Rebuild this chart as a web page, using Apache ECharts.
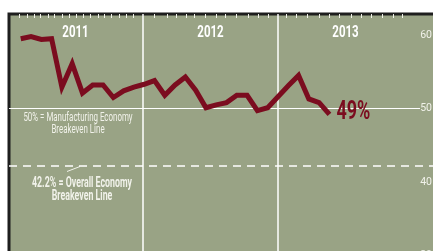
<!DOCTYPE html>
<html>
<head>
<meta charset="utf-8">
<script src="https://cdn.jsdelivr.net/npm/echarts@6/dist/echarts.min.js"></script>
<style>
  html, body { margin: 0; padding: 0; background: #fff; }
  #main { width: 433px; height: 251px; }
</style>
</head>
<body>
<div id="main"></div>
<script>
// PMI readings as drawn, one point per step
const pmi = [59.5, 59.8, 59.4, 59.5, 52.9, 56.1, 52.1, 53.2, 53.2, 51.5,
  52.4, 52.9, 53.3, 53.8, 51.8, 53.2, 54.3, 52.5, 50.1, 50.5,
  50.8, 51.8, 51.8, 49.7, 50.1, 51.6, 53.1, 54.5, 51.3, 50.8, 49.2]
const years = ['2011', '2012', '2013']
const yTicks = [30, 40, 50, 60]
const mfgBreakeven = 50
const overallBreakeven = 42.2
// decorative tick marks along the top edge (in point-step units)
const topTicks = [-0.1, 0.6, 1.3, 1.9, 2.7, 3.3, 4.0, 4.7, 5.4, 6.1, 6.8, 7.5, 8.1, 8.8, 9.6, 10.3, 10.9,
  13.0, 14.2, 15.1, 16.1, 16.9, 17.9, 19.0, 19.9, 20.9, 22.1, 23.1, 24.1,
  25.8, 26.8, 27.8, 29.0, 30.0, 31.0, 32.1, 33.1, 34.1, 35.1, 36.2, 37.1]

const font = 'Roboto, "Liberation Sans", sans-serif'
const maroon = '#7b0c1f'
const light = '#f1f2ea'
const xMin = -1.14
const xMax = 40.26

const chart = echarts.init(document.getElementById('main'))
const option = {
  animation: false,
  grid: [
    {
      left: 9, width: 426, top: 14, height: 241.5,
      outerBoundsMode: 'none',
      show: true,
      backgroundColor: '#99a385',
      borderColor: '#1e1e1e',
      borderWidth: 3
    },
    // year bands
    { left: 8, width: 405, top: 14, height: 241.5, outerBoundsMode: 'none' }
  ],
  xAxis: [
    {
      type: 'value',
      gridIndex: 0,
      position: 'top',
      min: xMin,
      max: xMax,
      axisLine: { show: false },
      axisLabel: { show: false },
      splitLine: { show: false },
      axisTick: {
        show: true,
        inside: true,
        length: 4,
        customValues: topTicks,
        lineStyle: { color: light, width: 1 }
      }
    },
    {
      type: 'category',
      gridIndex: 1,
      position: 'top',
      data: years,
      boundaryGap: true,
      axisLine: { show: false },
      axisTick: { show: false },
      axisLabel: { show: false },
      splitLine: {
        show: true,
        showMinLine: false,
        showMaxLine: false,
        lineStyle: { color: '#ffffff', width: 1.5 }
      }
    }
  ],
  yAxis: [
    {
      type: 'value',
      gridIndex: 0,
      position: 'right',
      min: 30,
      max: 62.86,
      axisLine: { show: false },
      axisTick: { show: false },
      splitLine: { show: false },
      axisLabel: {
        inside: true,
        margin: 3,
        customValues: yTicks,
        color: light,
        fontSize: 10.5,
        fontFamily: font
      }
    },
    { type: 'value', gridIndex: 1, show: false }
  ],
  series: [
    {
      name: 'breakeven',
      type: 'line',
      xAxisIndex: 0,
      yAxisIndex: 0,
      data: [],
      z: 1,
      markLine: {
        silent: true,
        symbol: 'none',
        label: { show: false },
        data: [
          [
            { coord: [xMin, mfgBreakeven] },
            { coord: [38.8, mfgBreakeven] }
          ],
          [
            { coord: [xMin, overallBreakeven], lineStyle: { type: [8, 6], width: 1.5 } },
            { coord: [xMax, overallBreakeven] }
          ]
        ],
        lineStyle: { color: '#ffffff', width: 1.2, type: 'solid' }
      }
    },
    {
      name: 'PMI',
      type: 'line',
      xAxisIndex: 0,
      yAxisIndex: 0,
      z: 5,
      data: pmi.map((v, i) => [i, v]),
      symbol: 'none',
      lineStyle: { color: maroon, width: 5, join: 'miter' }
    }
  ]
}
option && chart.setOption(option)

// condensed-looking texts, placed from the chart's own scales
const last = pmi.length - 1
const endPt = chart.convertToPixel({ seriesIndex: 1 }, [last, pmi[last]])
const graphic = years.map(y => ({
  type: 'text',
  x: chart.convertToPixel({ xAxisIndex: 1 }, y),
  y: 33,
  scaleX: 0.72,
  style: {
    text: y,
    textAlign: 'center',
    textVerticalAlign: 'middle',
    fill: '#ffffff',
    font: 'bold 16px ' + font
  }
}))
graphic.push(
  {
    type: 'text',
    x: endPt[0] + 7,
    y: endPt[1] - 2,
    scaleX: 0.72,
    z: 10,
    style: {
      text: Math.round(pmi[last]) + '%',
      textAlign: 'left',
      textVerticalAlign: 'middle',
      fill: maroon,
      font: 'bold 25px ' + font
    }
  },
  {
    type: 'text',
    x: 78,
    y: 124,
    scaleX: 0.66,
    style: {
      text: '50% = Manufacturing Economy\nBreakeven Line',
      textAlign: 'center',
      textVerticalAlign: 'middle',
      lineHeight: 12.5,
      fill: light,
      font: '12px ' + font
    }
  },
  {
    type: 'text',
    x: 82,
    y: 190,
    scaleX: 0.63,
    style: {
      text: '42.2% = Overall Economy\nBreakeven Line',
      textAlign: 'center',
      textVerticalAlign: 'middle',
      lineHeight: 13.5,
      fill: light,
      font: 'bold 14px ' + font
    }
  },
  {
    type: 'line',
    shape: { x1: 67, y1: 171.5, x2: 80, y2: 166.5 },
    style: { stroke: light, lineWidth: 1 }
  }
)
chart.setOption({ graphic })
</script>
</body>
</html>
